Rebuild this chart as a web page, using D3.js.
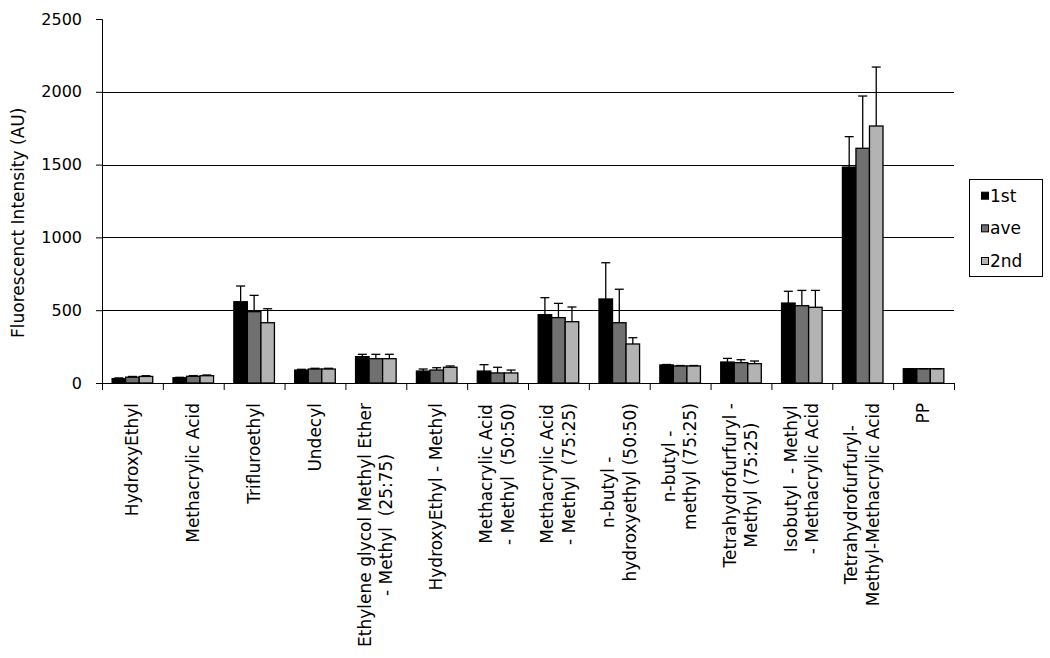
<!DOCTYPE html>
<html>
<head>
<meta charset="utf-8">
<script src="https://cdn.jsdelivr.net/npm/d3@7"></script>
<style>
  body { margin: 0; background: #fff; }
  svg { font-family: "DejaVu Sans", Verdana, sans-serif; }
  text { white-space: pre; }
</style>
</head>
<body>
<script>
// category labels, one entry per line of the rotated label
var categories = [
  ["HydroxyEthyl"],
  ["Methacrylic Acid"],
  ["Trifluroethyl"],
  ["Undecyl"],
  ["Ethylene glycol Methyl Ether", "- Methyl  (25:75)"],
  ["HydroxyEthyl - Methyl"],
  ["Methacrylic Acid", "- Methyl  (50:50)"],
  ["Methacrylic Acid", "- Methyl  (75:25)"],
  ["n-butyl -", "hydroxyethyl (50:50)"],
  ["n-butyl -", "methyl (75:25)"],
  ["Tetrahydrofurfuryl -", "Methyl (75:25)"],
  ["Isobutyl  - Methyl", "- Methacrylic Acid"],
  ["Tetrahydrofurfuryl-", "Methyl-Methacrylic Acid"],
  ["PP"]
];
var seriesNames = ["1st", "ave", "2nd"];
var first  = [30, 36, 558, 89, 181, 82, 82, 469, 577, 124, 144, 549, 1483, 98];
var ave    = [40, 46, 490, 96, 167, 89, 69, 449, 414, 117, 140, 531, 1612, 98];
var second = [45, 50, 414, 96, 167, 108, 69, 421, 268, 117, 133, 520, 1765, 98];
// plus error amounts
var firstErr  = [5, 3, 108, 5, 16, 14, 44, 117, 249, 3, 25, 81, 209, 0];
var aveErr    = [5, 5, 112, 5, 30, 16, 39, 98, 230, 3, 20, 105, 359, 0];
var secondErr = [5, 5, 96, 5, 30, 9, 20, 101, 43, 3, 18, 116, 405, 0];
var yTicks = [0, 500, 1000, 1500, 2000, 2500];
var colors = ["#000000", "#707070", "#b3b3b3"];

var values = [first, ave, second];
var errors = [firstErr, aveErr, secondErr];

var width = 1050, height = 658;
var plot = { left: 102, right: 954, top: 19, bottom: 383 };

var svg = d3.select("body").append("svg")
    .attr("width", width)
    .attr("height", height);

var idx = d3.range(categories.length);
var x = d3.scaleBand().domain(idx).range([plot.left, plot.right]).padding(0);
var xs = d3.scaleBand().domain(d3.range(3))
    .range([0, x.bandwidth()]).paddingInner(0).paddingOuter(0.75);
var xEdge = d3.scaleLinear().domain([0, categories.length]).range([plot.left, plot.right]);
var y = d3.scaleLinear().domain([0, 2500]).range([plot.bottom, plot.top]);

// gridlines
svg.append("g").selectAll("line")
  .data(yTicks.filter(function (d) { return d > 0 && d < 2500; }))
  .enter().append("line")
    .attr("x1", plot.left).attr("x2", plot.right)
    .attr("y1", function (d) { return Math.round(y(d)) + 0.5; })
    .attr("y2", function (d) { return Math.round(y(d)) + 0.5; })
    .attr("stroke", "#000").attr("stroke-width", 1);

// bars
var groups = svg.append("g").selectAll("g")
  .data(idx).enter().append("g")
    .attr("transform", function (i) { return "translate(" + x(i) + ",0)"; });

function rows(i) {
  return d3.range(3).map(function (s) { return { s: s, v: values[s][i], e: errors[s][i] }; });
}

groups.selectAll("rect")
  .data(rows)
  .enter().append("rect")
    .attr("x", function (d) { return xs(d.s); })
    .attr("width", xs.bandwidth())
    .attr("y", function (d) { return y(d.v); })
    .attr("height", function (d) { return y(0) - y(d.v); })
    .attr("fill", function (d) { return colors[d.s]; })
    .attr("stroke", "#000").attr("stroke-width", 1.3);

// error bars (plus direction)
var eb = groups.selectAll("g.err")
  .data(rows)
  .enter().append("g").attr("class", "err");
eb.append("line")
    .attr("x1", function (d) { return xs(d.s) + xs.bandwidth() / 2; })
    .attr("x2", function (d) { return xs(d.s) + xs.bandwidth() / 2; })
    .attr("y1", function (d) { return y(d.v); })
    .attr("y2", function (d) { return y(d.v + d.e); })
    .attr("stroke", "#000").attr("stroke-width", 1.3);
eb.append("line")
    .attr("x1", function (d) { return xs(d.s) + xs.bandwidth() / 2 - 4.5; })
    .attr("x2", function (d) { return xs(d.s) + xs.bandwidth() / 2 + 4.5; })
    .attr("y1", function (d) { return y(d.v + d.e); })
    .attr("y2", function (d) { return y(d.v + d.e); })
    .attr("stroke", "#000").attr("stroke-width", 1.3);

// y axis
var yAxis = d3.axisLeft(y).tickValues(yTicks).tickSize(6).tickPadding(14)
    .tickFormat(d3.format("d"));
var gy = svg.append("g")
    .attr("transform", "translate(" + plot.left + ",0)")
    .call(yAxis);
gy.selectAll("text").attr("font-size", 16).attr("fill", "#000")
    .attr("font-family", "DejaVu Sans, Verdana, sans-serif");
gy.select(".domain").attr("stroke", "#000");
gy.selectAll(".tick line").attr("stroke", "#000");

// x axis, ticks at category edges
var xAxis = d3.axisBottom(xEdge).tickValues(d3.range(categories.length + 1))
    .tickSize(7).tickFormat("");
var gx = svg.append("g")
    .attr("transform", "translate(0," + plot.bottom + ")")
    .call(xAxis);
gx.select(".domain").attr("stroke", "#000");
gx.selectAll(".tick line").attr("stroke", "#000");

// rotated category labels
var lineGap = 21.5, labelTop = 403;
idx.forEach(function (i) {
  var lines = categories[i];
  var c = x(i) + x.bandwidth() / 2;
  var g = svg.append("g");
  var texts = lines.map(function (l) {
    return g.append("text").text(l)
      .attr("font-size", 17).attr("fill", "#000")
      .attr("text-anchor", "middle");
  });
  var maxw = d3.max(texts, function (t) { return t.node().getComputedTextLength(); });
  var cy = labelTop + maxw / 2;
  texts.forEach(function (t, k) {
    var bx = c + 5.5 + (k - (lines.length - 1) / 2) * lineGap;
    t.attr("transform", "translate(" + bx + "," + cy + ") rotate(-90)");
  });
});

// y title
svg.append("text")
    .attr("transform", "translate(24,338) rotate(-90)")
    .attr("font-size", 17).attr("fill", "#000")
    .text("Fluorescenct Intensity (AU)");

// legend
var lg = svg.append("g");
lg.append("rect")
    .attr("x", 969.5).attr("y", 179.5).attr("width", 73).attr("height", 97)
    .attr("fill", "#fff").attr("stroke", "#000").attr("stroke-width", 1);
var rowY = d3.scalePoint().domain(d3.range(3)).range([195.7, 261]);
seriesNames.forEach(function (n, s) {
  lg.append("rect")
    .attr("x", 981.5).attr("y", rowY(s) - 3.5).attr("width", 7).attr("height", 7)
    .attr("fill", colors[s]).attr("stroke", "#000").attr("stroke-width", 1);
  lg.append("text")
    .attr("x", 990).attr("y", rowY(s) + 6)
    .attr("font-size", 17).attr("fill", "#000")
    .text(n);
});
</script>
</body>
</html>
